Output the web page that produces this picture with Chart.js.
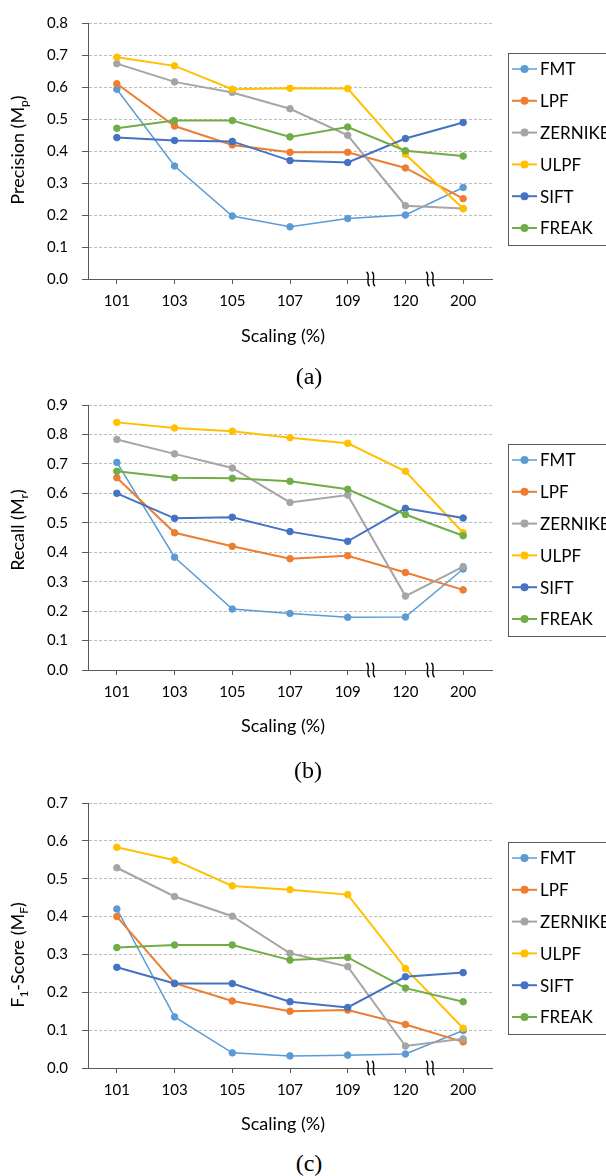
<!DOCTYPE html>
<html>
<head>
<meta charset="utf-8">
<script src="https://cdn.jsdelivr.net/npm/chart.js@4.4.0/dist/chart.umd.min.js"></script>
<style>
  body { margin: 0; background: #fff; }
  #page { position: relative; width: 606px; height: 1176px; overflow: hidden; background: #fff; }
  canvas { position: absolute; left: 0; }
  .cap {
    position: absolute; transform: translate(-50%, -50%); line-height: 1;
    font-family: "Liberation Serif", "Times New Roman", serif; font-size: 24px; color: #000;
  }
</style>
</head>
<body>
<div id="page">
  <canvas id="chartA" width="606" height="350" style="top:0px"></canvas>
  <canvas id="chartB" width="606" height="360" style="top:380px"></canvas>
  <canvas id="chartC" width="606" height="370" style="top:775px"></canvas>
  <div class="cap" style="left:309px; top:376px">(a)</div>
  <div class="cap" style="left:308px; top:770px">(b)</div>
  <div class="cap" style="left:309px; top:1163px">(c)</div>
</div>
<script>
// --- data ---
const categories = ['101', '103', '105', '107', '109', '120', '200'];
const methods = ['FMT', 'LPF', 'ZERNIKE', 'ULPF', 'SIFT', 'FREAK'];
const colors = ['#5B9BD5', '#ED7D31', '#A5A5A5', '#FFC000', '#4472C4', '#70AD47'];

// (a) precision
const fmtP   = [0.593, 0.353, 0.197, 0.163, 0.189, 0.200, 0.286];
const lpfP   = [0.610, 0.478, 0.419, 0.396, 0.396, 0.347, 0.251];
const zerP   = [0.673, 0.616, 0.583, 0.532, 0.449, 0.229, 0.220];
const ulpfP  = [0.693, 0.666, 0.593, 0.596, 0.595, 0.390, 0.220];
const siftP  = [0.442, 0.433, 0.430, 0.370, 0.364, 0.439, 0.489];
const freakP = [0.471, 0.495, 0.495, 0.444, 0.475, 0.401, 0.384];

// (b) recall
const fmtR   = [0.705, 0.383, 0.207, 0.192, 0.179, 0.180, 0.343];
const lpfR   = [0.653, 0.466, 0.420, 0.378, 0.388, 0.331, 0.272];
const zerR   = [0.783, 0.734, 0.686, 0.569, 0.594, 0.251, 0.351];
const ulpfR  = [0.841, 0.822, 0.811, 0.789, 0.770, 0.675, 0.466];
const siftR  = [0.600, 0.515, 0.519, 0.470, 0.437, 0.549, 0.516];
const freakR = [0.675, 0.653, 0.651, 0.641, 0.614, 0.528, 0.456];

// (c) F1-score
const fmtF   = [0.420, 0.135, 0.040, 0.032, 0.034, 0.037, 0.099];
const lpfF   = [0.400, 0.224, 0.177, 0.150, 0.153, 0.115, 0.069];
const zerF   = [0.529, 0.453, 0.401, 0.303, 0.268, 0.058, 0.077];
const ulpfF  = [0.583, 0.549, 0.481, 0.471, 0.458, 0.263, 0.105];
const siftF  = [0.266, 0.223, 0.223, 0.175, 0.160, 0.241, 0.252];
const freakF = [0.318, 0.325, 0.325, 0.285, 0.292, 0.211, 0.175];

// axis breaks sit between 109|120 and 120|200
const breakAt = [4.4, 5.43];

const AXIS = '#595959';
const FONT = 'Lato, "Open Sans", sans-serif';

// text with subscripts, centered on 0,0 (already rotated)
function drawRich(ctx, segs, size) {
    const subSize = Math.round(size * 0.68);
    let total = 0;
    segs.forEach(s => {
        ctx.font = (s.sub ? subSize : size) + 'px ' + FONT;
        s.w = ctx.measureText(s.t).width;
        total += s.w;
    });
    let x = -total / 2;
    segs.forEach(s => {
        ctx.font = (s.sub ? subSize : size) + 'px ' + FONT;
        ctx.fillText(s.t, x, s.sub ? 4 : 0);
        x += s.w;
    });
}

// axis titles, break marks and the boxed legend
const paperDeco = {
    id: 'paperDeco',
    afterDraw(chart, args, o) {
        const ctx = chart.ctx;
        const xs = chart.scales.x;
        const area = chart.chartArea;
        ctx.save();

        // x axis line runs out to the 0.0 tick like the original
        ctx.strokeStyle = AXIS;
        ctx.lineWidth = 1;
        ctx.beginPath();
        ctx.moveTo(area.left - 6, area.bottom + 0.5);
        ctx.lineTo(area.left, area.bottom + 0.5);
        ctx.stroke();

        // break marks on the category axis
        ctx.strokeStyle = '#000';
        ctx.lineWidth = 1.4;
        breakAt.forEach(b => {
            const bx = xs.getPixelForValue(b);
            [-2.7, 2.7].forEach(dx => {
                const cx = bx + dx, cy = area.bottom;
                ctx.beginPath();
                ctx.moveTo(cx - 1.6, cy - 7);
                ctx.bezierCurveTo(cx + 3, cy - 5, cx - 3, cy + 5, cx + 1.6, cy + 7);
                ctx.stroke();
            });
        });

        // y title (rotated)
        ctx.fillStyle = '#000';
        ctx.textBaseline = 'alphabetic';
        ctx.textAlign = 'left';
        ctx.save();
        ctx.translate(24, o.yTitleMid);
        ctx.rotate(-Math.PI / 2);
        drawRich(ctx, o.yTitle, 18);
        ctx.restore();

        // x title
        ctx.save();
        ctx.textBaseline = 'middle';
        ctx.translate(283, o.xTitleY);
        drawRich(ctx, [{ t: 'Scaling (%)' }], 18);
        ctx.restore();

        // legend box
        ctx.strokeStyle = AXIS;
        ctx.lineWidth = 1;
        ctx.strokeRect(508.5, o.legendTop + 0.5, 200, 192);
        chart.data.datasets.forEach((ds, i) => {
            const y = o.legendTop + 16 + i * 31.8;
            ctx.strokeStyle = ds.borderColor;
            ctx.lineWidth = ds.borderWidth;
            ctx.beginPath();
            ctx.moveTo(512, y);
            ctx.lineTo(537, y);
            ctx.stroke();
            ctx.fillStyle = ds.borderColor;
            ctx.beginPath();
            ctx.arc(524.5, y, 4, 0, Math.PI * 2);
            ctx.fill();
            ctx.fillStyle = '#000';
            ctx.font = '17px ' + FONT;
            ctx.textBaseline = 'middle';
            ctx.fillText(ds.label, 540, y + 1);
        });
        ctx.restore();
    }
};

function buildChart(id, spec) {
    const canvas = document.getElementById(id);
    const top = spec.pageTop;
    const h = canvas.height;

    const datasets = spec.series.map((vals, i) => ({
        label: methods[i],
        data: vals,
        borderColor: colors[i],
        backgroundColor: colors[i],
        pointBackgroundColor: colors[i],
        pointBorderColor: colors[i],
        borderWidth: i === 0 ? 1.5 : 2,
        pointRadius: 3.3,
        pointBorderWidth: 1,
        tension: 0,
        order: methods.length - i // later series on top, like Excel
    }));

    new Chart(canvas, {
        type: 'line',
        data: { labels: categories, datasets: datasets },
        options: {
            responsive: false,
            animation: false,
            layout: { padding: { top: spec.plotTop - top, right: 606 - 492, left: 0, bottom: 0 } },
            plugins: {
                legend: { display: false },
                tooltip: { enabled: false },
                paperDeco: {
                    yTitle: spec.yTitle,
                    yTitleMid: spec.yTitleMid - top,
                    xTitleY: spec.xTitleY - top,
                    legendTop: spec.legendTop - top
                }
            },
            scales: {
                x: {
                    offset: true,
                    grid: { drawOnChartArea: false, drawTicks: true, tickLength: 5, tickColor: AXIS, tickWidth: 1 },
                    border: { color: AXIS, width: 1 },
                    ticks: { color: '#000', font: { family: FONT, size: 15 }, padding: 8, maxRotation: 0, autoSkip: false },
                    afterFit: s => { s.height = top + h - spec.plotBottom; }
                },
                y: {
                    min: 0,
                    max: spec.yMax,
                    grid: {
                        color: c => (c.tick && c.tick.value === 0) ? 'rgba(0,0,0,0)' : '#bdbdbd',
                        lineWidth: 1,
                        tickLength: 6,
                        tickColor: AXIS,
                        tickBorderDash: []
                    },
                    border: { color: AXIS, width: 1, dash: [3, 2] },
                    ticks: {
                        stepSize: 0.1,
                        color: '#000',
                        font: { family: FONT, size: 15 },
                        padding: 14,
                        callback: v => v.toFixed(1)
                    },
                    afterFit: s => { s.width = 88; }
                }
            }
        },
        plugins: [paperDeco]
    });
}

buildChart('chartA', {
    pageTop: 0, plotTop: 15, plotBottom: 279, yMax: 0.8,
    series: [fmtP, lpfP, zerP, ulpfP, siftP, freakP],
    yTitle: [{ t: 'Precision (M' }, { t: 'p', sub: true }, { t: ')' }],
    yTitleMid: 150, xTitleY: 336, legendTop: 53
});

buildChart('chartB', {
    pageTop: 380, plotTop: 405, plotBottom: 670, yMax: 0.9,
    series: [fmtR, lpfR, zerR, ulpfR, siftR, freakR],
    yTitle: [{ t: 'Recall (M' }, { t: 'r', sub: true }, { t: ')' }],
    yTitleMid: 530, xTitleY: 726, legendTop: 444
});

buildChart('chartC', {
    pageTop: 775, plotTop: 803, plotBottom: 1068, yMax: 0.7,
    series: [fmtF, lpfF, zerF, ulpfF, siftF, freakF],
    yTitle: [{ t: 'F' }, { t: '1', sub: true }, { t: '-Score (M' }, { t: 'F', sub: true }, { t: ')' }],
    yTitleMid: 955, xTitleY: 1124, legendTop: 842
});
</script>
</body>
</html>
